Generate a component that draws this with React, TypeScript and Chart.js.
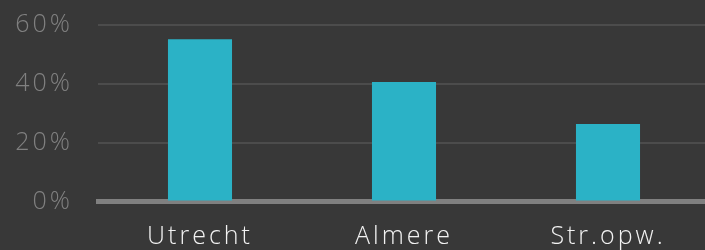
import React, { useEffect, useRef } from "react";
import { Chart, registerables } from "chart.js";

Chart.register(...registerables);

const categories = ["Utrecht", "Almere", "Str.opw."];
const shares = [55, 40.5, 26.3];
const yMin = 0;
const yMax = 60;
const yStep = 20;

const BG = "#383838";
const BAR = "#2bb2c6";
const FONT = '"Open Sans", sans-serif';

const spacingPlugin = {
  id: "spacing",
  beforeUpdate: (chart: any) => {
    chart.ctx.letterSpacing = "3px";
  },
  beforeDraw: (chart: any) => {
    chart.ctx.letterSpacing = "3px";
  },
};

export default function App() {
  const ref = useRef<HTMLCanvasElement | null>(null);
  useEffect(() => {
    if (!ref.current) return;
    const chart = new Chart(ref.current, {
      type: "bar",
      data: {
        labels: categories,
        datasets: [
          {
            data: shares,
            backgroundColor: BAR,
            borderWidth: 0,
            barPercentage: 0.314,
            categoryPercentage: 1,
          },
        ],
      },
      plugins: [spacingPlugin],
      options: {
        animation: false,
        responsive: false,
        maintainAspectRatio: false,
        layout: { padding: { top: 24.5, left: 0, right: 0, bottom: 0 } },
        plugins: { legend: { display: false }, tooltip: { enabled: false } },
        scales: {
          x: {
            z: 1,
            grid: { display: false, drawTicks: false },
            border: { display: true, color: "#808080", width: 5 },
            ticks: {
              color: "#f2f2f2",
              font: { family: FONT, size: 25, weight: "300" },
              padding: 20,
              maxRotation: 0,
            },
            afterFit: (s: any) => {
              s.height = 48.5;
              s.paddingLeft = 0;
              s.paddingRight = 0;
            },
          },
          y: {
            min: yMin,
            max: yMax,
            grid: {
              drawTicks: false,
              lineWidth: 2,
              color: (ctx: any) => (ctx.tick && ctx.tick.value === 0 ? "rgba(0,0,0,0)" : "#4c4c4c"),
            },
            border: { display: false },
            ticks: {
              stepSize: yStep,
              color: "#808080",
              font: { family: FONT, size: 25, weight: "300" },
              padding: 25,
              callback: (v: any) => v + "%",
            },
            afterFit: (s: any) => {
              s.width = 98;
              s.paddingTop = 0;
              s.paddingBottom = 0;
            },
          },
        },
      },
    });
    return () => chart.destroy();
  }, []);
  return (
    <div
      style={{
        position: "fixed",
        left: 0,
        top: 0,
        width: 705,
        height: 250,
        overflow: "hidden",
        background: BG,
      }}
    >
      <canvas ref={ref} width={710} height={250} style={{ display: "block" }} />
    </div>
  );
}
